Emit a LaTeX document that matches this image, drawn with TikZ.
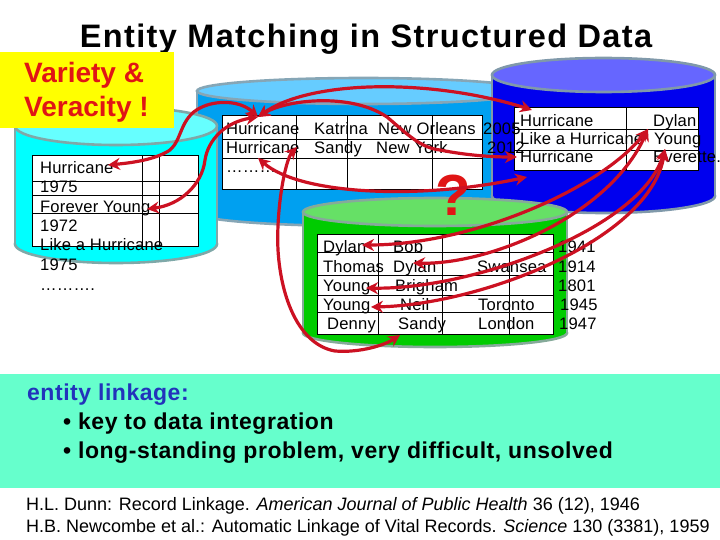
\documentclass[tikz,border=0pt]{standalone}
\usepackage{fontspec}
\setmainfont{Liberation Sans}
\usetikzlibrary{arrows.meta}
\definecolor{linkred}{HTML}{CC1122}
\definecolor{brightred}{HTML}{E01515}
\definecolor{noteyellow}{HTML}{FFFF00}
\definecolor{noteteal}{HTML}{66FFCC}
\definecolor{inkblue}{HTML}{2233BB}
\definecolor{cyanbody}{HTML}{00FFFF}
\definecolor{cyantop}{HTML}{66FFFF}
\definecolor{cyanrim}{HTML}{7FA8A8}
\definecolor{skybody}{HTML}{00A0F0}
\definecolor{skytop}{HTML}{66CCFF}
\definecolor{skyrim}{HTML}{86A6B6}
\definecolor{bluebody}{HTML}{0000EE}
\definecolor{bluetop}{HTML}{6666FF}
\definecolor{bluerim}{HTML}{8099AA}
\definecolor{greenbody}{HTML}{00CC00}
\definecolor{greentop}{HTML}{66E066}
\definecolor{greenrim}{HTML}{86AA9A}
\tikzset{
  tx/.style={anchor=base west,inner sep=0pt,font=\fontsize{16.6}{17}\selectfont\addfontfeatures{LetterSpace=1},text=black},
  bigtx/.style={anchor=base west,inner sep=0pt,font=\bfseries\fontsize{23}{24}\selectfont\addfontfeatures{LetterSpace=2.3},text=black},
  reftx/.style={anchor=base west,inner sep=0pt,font=\fontsize{18}{19}\selectfont,text=black},
  notetx/.style={anchor=base west,inner sep=0pt,font=\bfseries\fontsize{28}{29}\selectfont,text=brightred},
  tbl/.style={draw=black,line width=0.8pt},
  lnkb/.style={draw=linkred,line width=3.2pt,{Stealth[length=12pt,width=12pt]}-{Stealth[length=12pt,width=12pt]}},
  rim/.style={line width=2.6pt}
}
\newcommand{\drumshape}[8]{%
  \fill[#6,draw=#8,rim] ({(#1+#2)/2},{#4-#5}) ellipse [x radius={(#2-#1)/2*1pt},y radius={#5*1pt}];
  \fill[#6] (#1,{#3+#5}) rectangle (#2,{#4-#5});
  \draw[#8,rim] (#1,{#3+#5}) -- (#1,{#4-#5}) (#2,{#3+#5}) -- (#2,{#4-#5});
  \fill[#7,draw=#8,rim] ({(#1+#2)/2},{#3+#5}) ellipse [x radius={(#2-#1)/2*1pt},y radius={#5*1pt}];
}
\begin{document}
\begin{tikzpicture}[x=1pt,y=-1pt]
\useasboundingbox (0,0) rectangle (720,540);
\fill[white] (0,0) rectangle (720,540);

% title
\node[anchor=base,inner sep=0pt,font=\bfseries\fontsize{32.5}{34}\selectfont\addfontfeatures{LetterSpace=4.2}] (title) at (366,48) {Entity Matching in Structured Data};

% drums
\drumshape{197}{530}{78}{226}{13}{skybody}{skytop}{skyrim}
\drumshape{15}{217}{107}{263}{19}{cyanbody}{cyantop}{cyanrim}
\drumshape{492}{715}{58}{213}{17}{bluebody}{bluetop}{bluerim}
\drumshape{303}{567}{198}{347}{14}{greenbody}{greentop}{greenrim}

% note
\fill[noteyellow] (0,52) rectangle (174,128);
\node[notetx] (v1) at (24,83) {Variety \&};
\node[notetx] (v2) at (24,117) {Veracity !};

% tables
\fill[white] (32,155) rectangle (198,246);
\draw[tbl] (32,155) rectangle (198,246);
\draw[tbl] (32,181) -- (198,181) (32,195) -- (198,195) (32,213) -- (198,213) (142,155) -- (142,246) (159,155) -- (159,246);

\fill[white] (222,115) rectangle (482,189);
\draw[tbl] (222,115) rectangle (482,189);
\draw[tbl] (222,139) -- (482,139) (222,158) -- (482,158) (296,115) -- (296,189) (347,115) -- (347,189) (432,115) -- (432,189);

\fill[white] (514,107) rectangle (698,170);
\draw[tbl] (514,107) rectangle (698,170);
\draw[tbl] (514,129) -- (698,129) (514,150) -- (698,150) (626,107) -- (626,170);

\fill[white] (317,234) rectangle (553,334);
\draw[tbl] (317,234) rectangle (553,334);
\draw[tbl] (317,252) -- (553,252) (317,275) -- (553,275) (317,295) -- (553,295) (317,312) -- (553,312) (378,234) -- (378,334) (442,234) -- (442,334) (509,234) -- (509,334);

% left table text
\node[tx] (l1) at (40,174) {Hurricane};
\node[tx] (l2) at (40,193) {1975};
\node[tx] (l3) at (40,213) {Forever Young};
\node[tx] (l4) at (40,232) {1972};
\node[tx] (l5) at (40,251) {Like a Hurricane};
\node[tx] (l6) at (40,270) {1975};
\node[tx] (l7) at (40,290) {……….};

% middle table text
\node[tx] (m1) at (226,135) {Hurricane};
\node[tx] (m2) at (314,135) {Katrina};
\node[tx] (m3) at (378,135) {New Orleans};
\node[tx] (m4) at (483,135) {2005};
\node[tx] (m5) at (226,154) {Hurricane};
\node[tx] (m6) at (314,154) {Sandy};
\node[tx] (m7) at (376,154) {New York};
\node[tx] (m8) at (487,154) {2012};
\node[tx] (m9) at (226,173) {………};

% right table text
\node[tx] (r1) at (520,127) {Hurricane};
\node[tx] (r2) at (653,127) {Dylan};
\node[tx] (r3) at (520,145) {Like a Hurricane};
\node[tx] (r4) at (654,145) {Young};
\node[tx] (r5) at (520,163) {Hurricane};
\node[tx] (r6) at (653,163) {Everette.};

% green table text
\node[tx] (g1) at (323,252) {Dylan};
\node[tx] (g2) at (393,252) {Bob};
\node[tx] (g3) at (558,252) {1941};
\node[tx] (g4) at (323,272) {Thomas};
\node[tx] (g5) at (393,272) {Dylan};
\node[tx] (g6) at (477,272) {Swansea};
\node[tx] (g7) at (558,272) {1914};
\node[tx] (g8) at (323,291) {Young};
\node[tx] (g9) at (395,291) {Brigham};
\node[tx] (g10) at (558,291) {1801};
\node[tx] (g11) at (323,310) {Young};
\node[tx] (g12) at (400,310) {Neil};
\node[tx] (g13) at (478,310) {Toronto};
\node[tx] (g14) at (560,310) {1945};
\node[tx] (g15) at (327,329) {Denny};
\node[tx] (g16) at (398,329) {Sandy};
\node[tx] (g17) at (478,329) {London};
\node[tx] (g18) at (559,329) {1947};

% bottom band
\fill[noteteal] (0,374) rectangle (720,488);
\node[bigtx,text=inkblue] (b1) at (27,400) {entity linkage:};
\node[bigtx] (b2) at (63,429) {• key to data integration};
\node[bigtx] (b3) at (63,458) {• long-standing problem, very difficult, unsolved};
\node[reftx] (c1) at (26,510) {H.L. Dunn: Record Linkage. \textit{American Journal of Public Health} 36 (12), 1946};
\node[reftx] (c2) at (26,532) {H.B. Newcombe et al.: Automatic Linkage of Vital Records. \textit{Science} 130 (3381), 1959};

% question mark
\node[anchor=base,inner sep=0pt,font=\bfseries\fontsize{58}{60}\selectfont,text=brightred] (qm) at (453,215) {?};

% connector ends
\coordinate (hub) at (258,117);
\coordinate (lHur) at (108,165);
\coordinate (lFor) at (147,209);
\coordinate (rHur) at (532,110);
\coordinate (rHurc) at (517,157);
\coordinate (mDots) at (258,158);
\coordinate (rGap) at (527,177);
\coordinate (mSan) at (297,147);
\coordinate (gSan) at (400,335);
\coordinate (gDyl) at (362,245);
\coordinate (gDyb) at (413,263);
\coordinate (gYo) at (366,288);
\coordinate (gYn) at (371,307);
\coordinate (rLike) at (648,129);
\coordinate (rEv) at (665,149);

% connectors
\draw[lnkb] (hub) .. controls (240,100) and (215,100) .. (200,108) .. controls (180,118) and (182,140) .. (170,150) .. controls (155,160) and (130,163) .. (lHur);
\draw[lnkb] (hub) .. controls (225,122) and (208,140) .. (205,160) .. controls (202,185) and (180,205) .. (lFor);
\draw[lnkb] (hub) .. controls (310,80) and (430,78) .. (rHur);
\draw[lnkb] (hub) .. controls (285,100) and (350,92) .. (387,117) .. controls (405,132) and (420,148) .. (440,150) .. controls (465,155) and (490,157) .. (rHurc);
\draw[lnkb] (mDots) .. controls (300,195) and (420,200) .. (rGap);
\draw[lnkb] (mSan) .. controls (285,160) and (276,210) .. (278,250) .. controls (281,300) and (300,345) .. (335,351) .. controls (360,353) and (385,345) .. (gSan);
\draw[lnkb] (gDyl) .. controls (470,245) and (600,190) .. (rLike);
\draw[lnkb] (gDyb) .. controls (490,265) and (610,215) .. (rLike);
\draw[lnkb] (gYo) .. controls (470,290) and (640,230) .. (rEv);
\draw[lnkb] (gYn) .. controls (480,305) and (650,240) .. (rEv);
\end{tikzpicture}
\end{document}
